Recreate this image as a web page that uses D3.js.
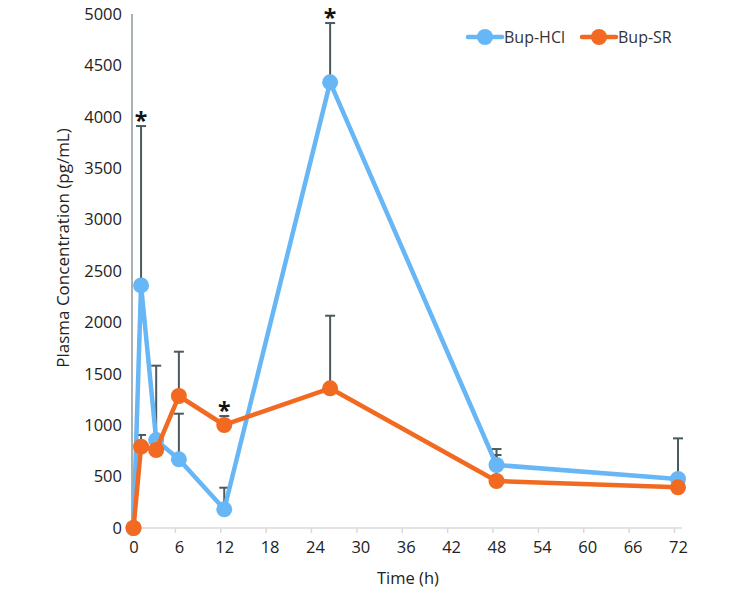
<!DOCTYPE html>
<html><head><meta charset="utf-8">
<script src="https://cdn.jsdelivr.net/npm/d3@7"></script>
<style>body{margin:0;background:#fff}svg{display:block}text{font-family:"Open Sans",sans-serif}</style>
</head><body><svg id="c" width="745" height="593"></svg>
<script>
const times = [0, 1, 3, 6, 12, 26, 48, 72];
const hclMean = [0, 2360, 855, 668, 182, 4335, 613, 477];
const hclErrTop = [null, 3910, 1579, 1112, 392, 4912, 768, 872];
const srMean = [0, 791, 759, 1284, 1002, 1359, 457, 396];
const srErrTop = [null, 905, null, 1715, 1089, 2065, 710, null];
const xTicks = [0, 6, 12, 18, 24, 30, 36, 42, 48, 54, 60, 66, 72];
const yTicks = [0, 500, 1000, 1500, 2000, 2500, 3000, 3500, 4000, 4500, 5000];
const sigMarks = [{s: "hcl", t: 1}, {s: "sr", t: 12}, {s: "hcl", t: 26}];
const seriesNames = ["Bup-HCl", "Bup-SR"];

const svg = d3.select("#c");
const x = d3.scaleLinear().domain([0, 72]).range([133.5, 678]);
const y = d3.scaleLinear().domain([0, 5000]).range([528, 14]);
const blue = "#67b6f5", orange = "#f26a21", errC = "#4b5a5c";

// x axis
const xa = svg.append("g").attr("transform", "translate(0,528)")
  .call(d3.axisBottom(x).tickValues(xTicks).tickSize(0).tickPadding(13));
xa.select(".domain").remove();
xa.selectAll("text").attr("font-size", 16.5).attr("fill", "#222");
svg.append("line").attr("x1", 130).attr("x2", 682).attr("y1", 528).attr("y2", 528)
  .attr("stroke", "#d9d9d9").attr("stroke-width", 1.5);
svg.selectAll(".xt").data(xTicks).enter().append("line")
  .attr("x1", d => x(d) - 3.5).attr("x2", d => x(d) - 3.5).attr("y1", 528).attr("y2", 533)
  .attr("stroke", "#d9d9d9").attr("stroke-width", 1.5);

// y axis
const ya = svg.append("g").attr("transform", "translate(132,0)")
  .call(d3.axisLeft(y).tickValues(yTicks).tickSize(0).tickPadding(10).tickFormat(d3.format("d")));
ya.select(".domain").remove();
ya.selectAll("text").attr("font-size", 16.5).attr("fill", "#222");
svg.append("line").attr("x1", 132).attr("x2", 132).attr("y1", y(5000)).attr("y2", 528)
  .attr("stroke", "#a9b1b1").attr("stroke-width", 2);

// titles
svg.append("text").attr("x", 408).attr("y", 584).attr("text-anchor", "middle")
  .attr("font-size", 16.5).attr("fill", "#222").text("Time (h)");
svg.append("text").attr("transform", "translate(69,248) rotate(-90)").attr("text-anchor", "middle")
  .attr("font-size", 17).attr("fill", "#222").text("Plasma Concentration (pg/mL)");

function errBars(mean, top) {
  const d = times.map((t, i) => ({t, m: mean[i], e: top[i]})).filter(d => d.e != null);
  const g = svg.append("g").attr("stroke", errC).attr("stroke-width", 2);
  g.selectAll(".v").data(d).enter().append("line")
    .attr("x1", d => x(d.t)).attr("x2", d => x(d.t)).attr("y1", d => y(d.m)).attr("y2", d => y(d.e));
  g.selectAll(".h").data(d).enter().append("line")
    .attr("x1", d => x(d.t) - 5).attr("x2", d => x(d.t) + 5).attr("y1", d => y(d.e)).attr("y2", d => y(d.e));
}
errBars(hclMean, hclErrTop);
errBars(srMean, srErrTop);

function series(mean, color) {
  const d = times.map((t, i) => [t, mean[i]]);
  svg.append("path").datum(d).attr("fill", "none").attr("stroke", color).attr("stroke-width", 4.5)
    .attr("stroke-linejoin", "round")
    .attr("d", d3.line().x(p => x(p[0])).y(p => y(p[1])));
  svg.selectAll(null).data(d).enter().append("circle")
    .attr("cx", p => x(p[0])).attr("cy", p => y(p[1])).attr("r", 8).attr("fill", color);
}
series(hclMean, blue);
series(srMean, orange);

// significance marks
sigMarks.forEach(m => {
  const i = times.indexOf(m.t);
  const top = m.s === "hcl" ? hclErrTop[i] : srErrTop[i];
  svg.append("text").attr("x", x(m.t)).attr("y", y(top) + 3).attr("text-anchor", "middle")
    .attr("font-size", 23).attr("font-weight", "bold").attr("fill", "#111").text("*");
});

// legend
const leg = [{n: seriesNames[0], c: blue, x0: 468}, {n: seriesNames[1], c: orange, x0: 582}];
leg.forEach(l => {
  svg.append("line").attr("x1", l.x0).attr("x2", l.x0 + 34).attr("y1", 37).attr("y2", 37)
    .attr("stroke", l.c).attr("stroke-width", 4.5).attr("stroke-linecap", "round");
  svg.append("circle").attr("cx", l.x0 + 17).attr("cy", 37).attr("r", 8).attr("fill", l.c);
  svg.append("text").attr("x", l.x0 + 36).attr("y", 43).attr("font-size", 16).attr("fill", "#333").text(l.n);
});
</script></body></html>
